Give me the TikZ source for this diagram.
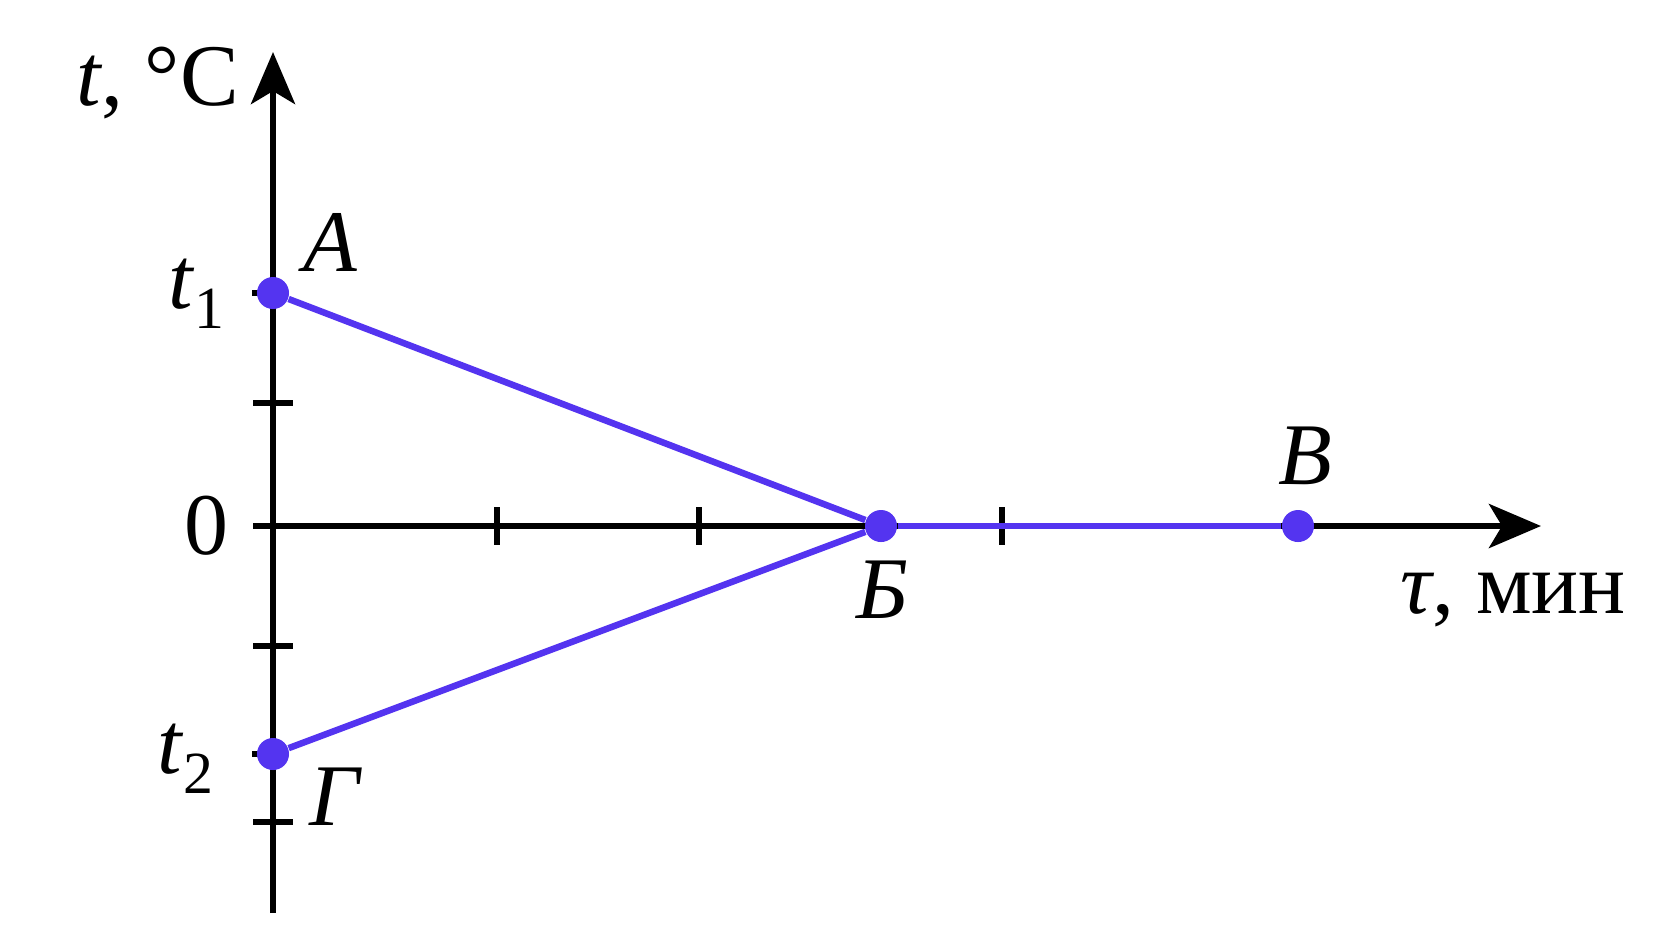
\documentclass[tikz,border=0pt]{standalone}
\usepackage{fontspec}
\setmainfont{Liberation Serif}
\usetikzlibrary{arrows.meta}
\definecolor{curve}{RGB}{84,52,240}
\newcommand{\lowidx}[1]{\raisebox{-0.2cm}{\fontsize{17}{20}\selectfont #1}}

\begin{document}
\begin{tikzpicture}[x=0.01cm, y=-0.01cm,
  every node/.style={inner sep=0pt, font=\fontsize{25}{30}\selectfont},
  axis/.style={line width=0.06cm, -{Stealth[length=0.52cm, width=0.44cm, inset=0.13cm]}},
  tick/.style={line width=0.06cm},
  graph/.style={line width=0.065cm, curve},
  dot/.style={circle, fill=curve, minimum size=0.32cm}]
  \useasboundingbox (0,0) rectangle (1672,941);
  % axes
  \coordinate (O) at (273,526);
  \coordinate (ybot) at (273,913);
  \coordinate (ytop) at (273,52);
  \coordinate (xbeg) at (253,526);
  \coordinate (xend) at (1541,526);
  \draw[axis] (ybot) -- (ytop);
  \draw[axis] (xbeg) -- (xend);
  % ticks
  \foreach \x in {497,699,1002}
    \draw[tick] (\x,507) -- (\x,545);
  \foreach \y in {403,646,822}
    \draw[tick] (253,\y) -- (293,\y);
  \draw[tick] (252,293) -- (273,293);
  \draw[tick] (252,754) -- (273,754);
  % graph
  \node[dot] (A) at (273,293) {};
  \node[dot] (B) at (881,526) {};
  \node[dot] (V) at (1298,526) {};
  \node[dot] (G) at (273,754) {};
  \draw[graph] (A) -- (B);
  \draw[graph] (G) -- (B);
  \draw[graph] (B) -- (V);
  % labels
  \node[anchor=base west] (ylbl) at (76,105) {\textit{t}, °C};
  \node[anchor=base west] (xlbl) at (1400,613) {\textit{τ}, мин};
  \node[anchor=base west] (t1) at (168,308) {\textit{t}\lowidx{1}};
  \node[anchor=base west] (t2) at (157,773) {\textit{t}\lowidx{2}};
  \node (zero) at (206,526) {0};
  \node (lA) at (330,242) {\textit{А}};
  \node (lB) at (882,590) {\textit{Б}};
  \node (lV) at (1305,456) {\textit{В}};
  \node (lG) at (336,797) {\textit{Г}};
\end{tikzpicture}
\end{document}
